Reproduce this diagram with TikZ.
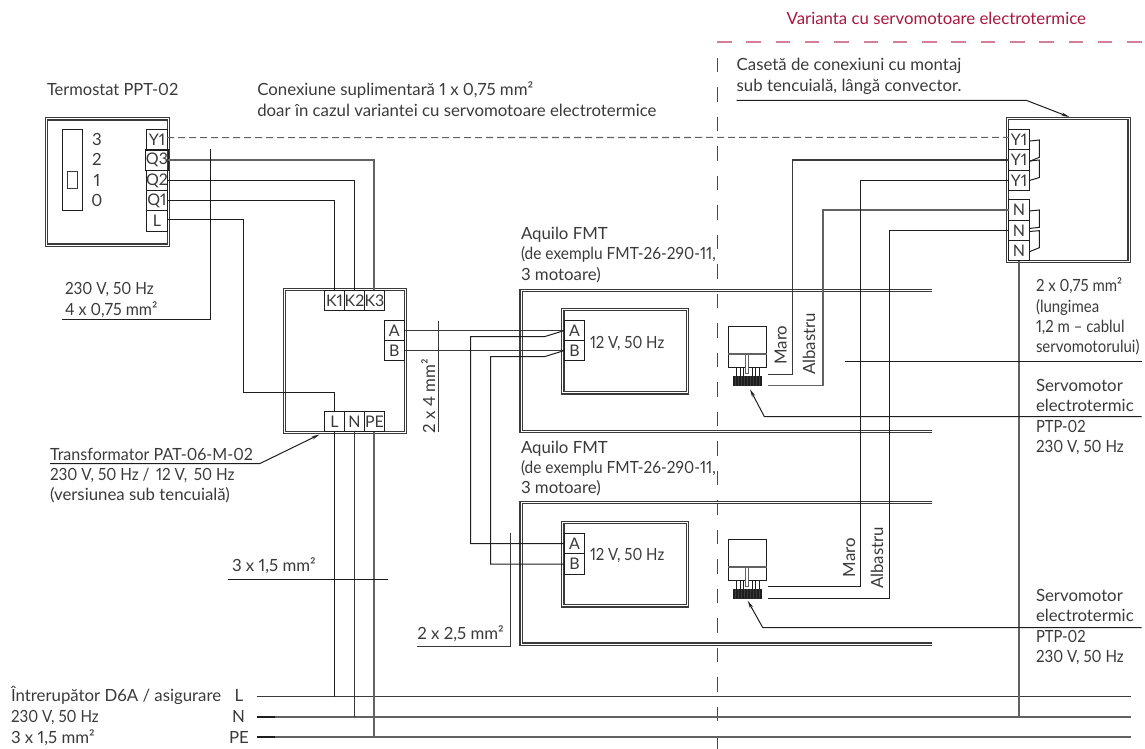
\documentclass[tikz,border=0pt]{standalone}
\usepackage{fontspec}
\usepackage{graphicx}
\setmainfont{Lato}[Numbers=Proportional]
\usetikzlibrary{arrows.meta}
\newcommand\hsq[2]{\scalebox{#1}[1]{#2}}
\definecolor{tc}{HTML}{3A3A3A}
\definecolor{wk}{HTML}{1E1E1E}
\definecolor{wg}{HTML}{626262}
\definecolor{wm}{HTML}{3A3A3A}
\definecolor{redt}{HTML}{A8183F}
\definecolor{redl}{HTML}{D47F98}
\tikzset{
  txt/.style={anchor=base west,inner sep=0pt,outer sep=0pt,text=tc,font=\fontsize{16.8}{18}\selectfont},
  rtxt/.style={anchor=base,rotate=90,inner sep=0pt,outer sep=0pt,text=tc,font=\fontsize{16.8}{18}\selectfont},
  ctxt/.style={anchor=base,inner sep=0pt,outer sep=0pt,text=tc,font=\fontsize{16.8}{18}\selectfont},
  term/.style={draw=wk,line width=1pt,minimum width=20.4pt,minimum height=20.3pt,inner sep=0pt,outer sep=0pt,text=tc,font=\fontsize{16}{18}\selectfont},
  dbl/.style={draw=wm,line width=1.1pt,double=white,double distance=1pt},
  dblbox/.style={dbl,inner sep=0pt,outer sep=0pt},
  wirek/.style={draw=wk,line width=1pt},
  wirem/.style={draw=wm,line width=1.05pt},
  wireg/.style={draw=wg,line width=1.1pt},
  lead/.style={draw=wk,line width=1pt,-{Stealth[length=8pt,width=3.4pt]}},
  servo/.pic={
    \draw[wk,line width=1pt] (0,0) rectangle (38.7,41.3);
    \draw[wg,line width=1.4pt] (0,28) -- (38.7,28);
    \draw[wk,line width=1pt] (8,41.3)--(8,50) (12,41.3)--(12,50) (15,41.3)--(15,50)
      (24,41.3)--(24,50) (27,41.3)--(27,50) (31,41.3)--(31,50);
    \fill[wk] (4.5,50) rectangle (34.3,60);
    \foreach \i in {1,...,9}{\draw[wm,line width=.5pt] ({4.5+\i*3},50)--({4.5+\i*3},60);}
    \draw[wg,line width=.9pt,fill=white] (17.7,28) rectangle (20.7,47);
  }
}
\begin{document}
\begin{tikzpicture}[x=1pt,y=-1pt]
\useasboundingbox (0,0) rectangle (1145,749);
% ---- red variant frame
\node[txt,text=redt] (vartitle) at (786.7,25) {Varianta cu servomotoare electrotermice};
\draw[redl,line width=1.2pt,dash pattern=on 14.5pt off 14.8pt] (717,42) -- (1145,42);
\draw[redt,line width=1pt,dash pattern=on 14.5pt off 15pt] (717.3,57.7) -- (717.3,749);
% ---- boxes
\node[dblbox,minimum width=121.5pt,minimum height=126pt] (thermo) at (107.5,182) {};
\node[dblbox,minimum width=121.5pt,minimum height=143.5pt] (trafo) at (345,361) {};
\node[dblbox,minimum width=121.5pt,minimum height=143pt] (jbox) at (1068.3,190.3) {};
\node[dblbox,minimum width=124.8pt,minimum height=83.8pt] (unit1) at (625.3,351) {};
\node[dblbox,minimum width=124.8pt,minimum height=83.8pt] (unit2) at (625.3,564) {};
\draw[dbl] (932,290.2) -- (521,290.2) -- (521,431.8) -- (932,431.8);
\draw[dbl] (932,502.6) -- (521,502.6) -- (521,644) -- (932,644);
% ---- thermostat inside
\node[draw=wk,line width=1pt,minimum width=20.4pt,minimum height=81pt,inner sep=0pt] (slider) at (72.5,170) {};
\node[draw=wm,line width=1pt,minimum width=10.4pt,minimum height=17.3pt,inner sep=0pt] (knob) at (72.5,180.3) {};
\node[ctxt] (n3) at (97,145) {3};
\node[ctxt] (n2) at (97,165.5) {2};
\node[ctxt] (n1) at (97,186) {1};
\node[ctxt] (n0) at (97,206.7) {0};
% ---- terminals
\node[term] (tY) at (157,140) {Y1};
\node[term] (tQ3) at (157,160) {Q3};
\node[term] (tQ2) at (157,180.5) {Q2};
\node[term] (tQ1) at (157,200.5) {Q1};
\node[term] (tL) at (157,221) {L};
\node[term] (kA) at (334.5,300.5) {K1};
\node[term] (kB) at (354.5,300.5) {K2};
\node[term] (kC) at (374.5,300.5) {K3};
\node[term] (xL) at (334.5,421.7) {L};
\node[term] (xN) at (354.5,421.7) {N};
\node[term] (xPE) at (374.5,421.7) {PE};
\node[term] (oA) at (394.3,330.5) {A};
\node[term] (oB) at (394.3,350.5) {B};
\node[term] (fA) at (574.6,330.5) {A};
\node[term] (fB) at (574.6,350.5) {B};
\node[term] (gA) at (574.6,543.5) {A};
\node[term] (gB) at (574.6,564) {B};
\node[term] (rY1) at (1019,139.6) {Y1};
\node[term] (rY2) at (1019,160) {Y1};
\node[term] (rY3) at (1019,180.5) {Y1};
\node[term] (rN1) at (1019,210) {N};
\node[term] (rN2) at (1019,230.5) {N};
\node[term] (rN3) at (1019,250.8) {N};
% ---- thermostat to transformer
\draw[wireg,dash pattern=on 7pt off 4pt] ([yshift=2.3pt]tY.east) -- ([yshift=2.3pt]rY1.west);
\draw[wireg] (tQ3.east) -| ([xshift=-.5pt]kC.north);
\draw[wirek] (tQ2.east) -| (kB.north);
\draw[wirek] (tQ1.east) -| (kA.north);
\draw[wirek] ([yshift=2pt]tL.east) -| (243.5,392.5) -| (xL.north);
% ---- transformer to units
\draw[wirem] (oA.east) -- (fA.west);
\draw[wirem] (oB.east) -- (fB.west);
\draw[wirek] (fA.west) -- (545,336.5) -- (470.5,336.5) |- (gA.west);
\draw[wirek] (fB.west) -- (545,356.5) -- (490.5,356.5) |- (gB.west);
% ---- jumpers
\draw[wirek] ([yshift=-1.5pt]rY1.east) -- (1039.3,140) -- (1039.3,157.3) -- ([yshift=-1.5pt]rY2.east);
\draw[wirek] ([yshift=-1pt]rY2.east) -- (1039.3,160) -- (1039.3,177.6) -- (rY3.east);
\draw[wirek] ([yshift=-1pt]rN1.east) -- (1039.3,210) -- (1039.3,227.3) -- ([yshift=2pt]rN2.east);
\draw[wirek] ([yshift=-1pt]rN2.east) -- (1039.3,230.7) -- (1039.3,247.7) -- ([yshift=-1pt]rN3.east);
% ---- servomotors
\pic (servoA) at (728,326) {servo};
\pic (servoB) at (728,539) {servo};
\coordinate (a1) at (768.3,374.5);
\coordinate (a2) at (768.3,385.5);
\coordinate (b1) at (768.3,586.5);
\coordinate (b2) at (768.3,598.5);
\draw[wirem] (rY2.west) -| (792.5,374.5) -- (a1);
\draw[wireg] (rN1.west) -| (823,385.5) -- (a2);
\draw[wirek] (rY3.west) -| (860.5,586.5) -- (b1);
\draw[wirek] (rN2.west) -| (889.5,598.5) -- (b2);
% ---- bus
\node[ctxt] (lL) at (239,701.7) {L};
\node[ctxt] (lN) at (238.5,722.7) {N};
\node[ctxt] (lPE) at (239,743.3) {PE};
\coordinate (bL) at (257,696.5);
\coordinate (bN) at (257,717);
\coordinate (bPE) at (257,737);
\coordinate (bLe) at (1131,696.5);
\coordinate (bNe) at (1131,717);
\coordinate (bPEe) at (1131,737);
\draw[wirem] (bL) -- (bLe);
\draw[wireg] (bN) -- (bNe);
\draw[wireg] (bPE) -- (bPEe);
\draw[wirek,line width=1.3pt] (bN) -- ++(18,0);
\draw[wirek,line width=1.3pt] (bPE) -- ++(18,0);
\draw[wirek] (xL.south) -- (xL.south |- bL);
\draw[wirem] (xN.south) -- (xN.south |- bN);
\draw[wireg] ([xshift=-.5pt]xPE.south) -- ([xshift=-.5pt]xPE.south |- bPE);
\draw[wireg] (rN3.south) -- (rN3.south |- bN);
% ---- cross ticks with labels
\node[txt] (lbl1a) at (65,294) {\hsq{.91}{230 V, 50 Hz}};
\node[txt] (lbl1b) at (65,315) {\hsq{.95}{4 x 0,75 mm²}};
\draw[wirek] (62.3,319.5) -- (210.5,319.5) -- (210.5,149);
\node[rtxt] (lbl2) at (435,396) {2 x 4 mm²};
\draw[wirem] (438.5,320.7) -- (438.5,432.3);
\node[txt] (lbl3) at (232,571.7) {3 x 1,5 mm²};
\draw[wirek] (227.7,579.5) -- (388,579.5);
\node[txt] (lbl4) at (417.3,639) {2 x 2,5 mm²};
\draw[wirem] (417.3,646.5) -- (510.5,646.5) -- (510.5,533);
\draw[wirek] (844.7,361.5) -- (1141.7,361.5);
% ---- leader lines
\node[txt] (case1) at (736.7,70.7) {Casetă de conexiuni cu montaj};
\node[txt] (case2) at (736.7,91.7) {sub tencuială, lângă convector.};
\draw[lead] (736.7,100.5) -- (1026.7,100.5) -- (1069.3,117);
\draw[lead] (1141.7,416.5) -- (764.3,416.5) -- (750,389.3);
\draw[lead] (1141.7,627.5) -- (762.7,627.5) -- (747.7,600.7);
\node[txt] (tr1) at (50,460.7) {\hsq{.957}{Transformator PAT-06-M-02}};
\node[txt] (tr2) at (50,480) {\hsq{.91}{230 V, 50 Hz /\, 12 V,\, 50 Hz}};
\node[txt] (tr3) at (50,500) {(versiunea sub tencuială)};
\draw[lead] (50,463.5) -- (260,463.5) -- (319.5,434.5);
% ---- other labels
\node[txt] (ttl) at (47,96) {\hsq{.98}{Termostat PPT-02}};
\node[txt] (cx1) at (257.3,96) {Conexiune suplimentară 1 x 0,75 mm²};
\node[txt] (cx2) at (257.3,116.7) {doar în cazul variantei cu servomotoare electrotermice};
\node[txt] (aq1) at (521,239) {Aquilo FMT};
\node[txt] (aq2) at (521,259.5) {\hsq{.92}{(de exemplu FMT-26-290-11,}};
\node[txt] (aq3) at (521,280) {3 motoare)};
\node[txt] (aq4) at (521,453) {Aquilo FMT};
\node[txt] (aq5) at (521,473.5) {\hsq{.92}{(de exemplu FMT-26-290-11,}};
\node[txt] (aq6) at (521,493) {3 motoare)};
\node[txt] (v1) at (590,348) {\hsq{.89}{12 V, 50 Hz}};
\node[txt] (v2) at (590,560) {\hsq{.89}{12 V, 50 Hz}};
\node[rtxt] (m1) at (786.7,345) {Maro};
\node[rtxt] (al1) at (815,344) {Albastru};
\node[rtxt] (m2) at (855,557.5) {Maro};
\node[rtxt] (al2) at (883,558) {Albastru};
\node[txt] (c1) at (1036,291.7) {\hsq{.89}{2 x 0,75 mm²}};
\node[txt] (c2) at (1036,312) {\hsq{.89}{(lungimea}};
\node[txt] (c3) at (1036,332) {\hsq{.89}{1,2 m – cablul}};
\node[txt] (c4) at (1036,352.7) {\hsq{.89}{servomotorului)}};
\node[txt] (s1) at (1036,391.7) {Servomotor};
\node[txt] (s2) at (1036,411.7) {electrotermic};
\node[txt] (s3) at (1036,432.5) {\hsq{.88}{PTP-02}};
\node[txt] (s4) at (1036,452.7) {\hsq{.9}{230 V, 50 Hz}};
\node[txt] (s5) at (1036,601.7) {Servomotor};
\node[txt] (s6) at (1036,621.7) {electrotermic};
\node[txt] (s7) at (1036,642.7) {\hsq{.88}{PTP-02}};
\node[txt] (s8) at (1036,662.7) {\hsq{.9}{230 V, 50 Hz}};
\node[txt] (b1t) at (11,701.7) {Întrerupător D6A / asigurare};
\node[txt] (b2t) at (11,722.7) {\hsq{.9}{230 V, 50 Hz}};
\node[txt] (b3t) at (11,743.3) {3 x 1,5 mm²};
\end{tikzpicture}
\end{document}
